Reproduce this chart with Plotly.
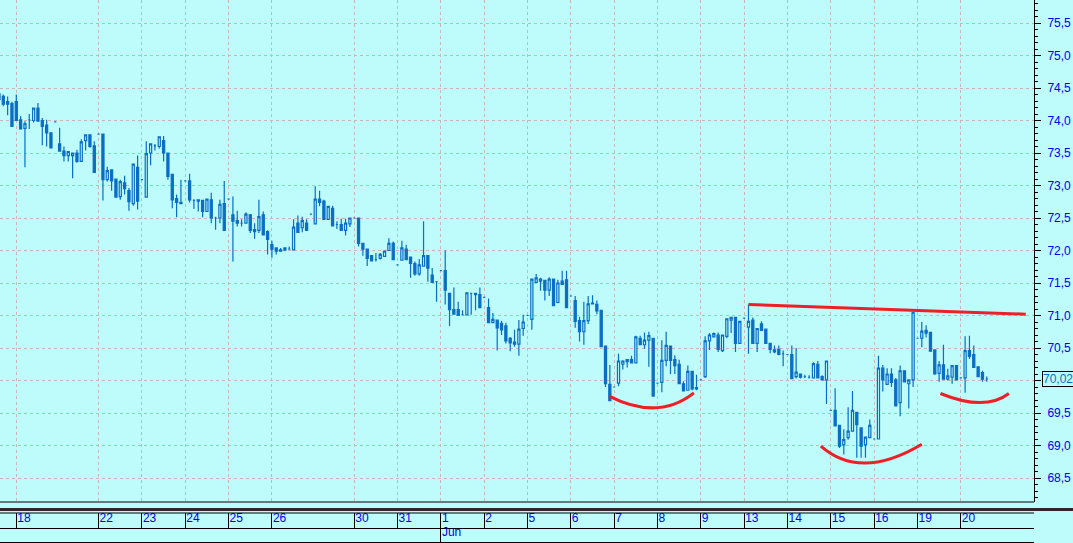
import plotly.graph_objects as go

# hourly bars, oldest first (bar number = list position)
opens = [
    74.41, 74.37, 74.29, 74.26, 74.29, 74.01, 73.88, 74.01, 74.00, 74.19,
    74.00, 73.93, 73.81, 73.98, 73.64, 73.53, 73.46, 73.46, 73.50, 73.37,
    73.69, 73.78, 73.61, 73.79, 73.79, 73.09, 73.24, 73.10, 72.83, 73.04,
    72.92, 72.72, 73.28, 73.09, 72.82, 73.50, 73.61, 73.60, 73.69, 73.50,
    73.17, 72.80, 72.74, 73.07, 73.07, 72.77, 72.78, 72.77, 72.60, 72.78,
    72.50, 72.50, 72.72, 72.79, 72.55, 72.46, 72.42, 72.42, 72.55, 72.32,
    72.31, 72.55, 72.29, 72.09, 72.04, 72.01, 72.01, 72.02, 72.01, 72.42,
    72.35, 72.42, 72.56, 72.41, 72.79, 72.76, 72.48, 72.65, 72.40, 72.40,
    72.31, 72.41, 72.50, 72.50, 72.11, 72.02, 71.92, 71.86, 71.88, 71.91,
    72.00, 72.11, 71.78, 71.85, 72.02, 71.90, 71.80, 71.64, 71.76, 71.92,
    71.62, 71.52, 71.69, 71.69, 71.34, 71.09, 71.09, 71.01, 71.01, 71.34,
    71.34, 71.32, 71.28, 71.12, 70.89, 70.93, 70.88, 70.84, 70.65, 70.59,
    70.56, 70.80, 71.00, 70.94, 71.51, 71.56, 71.54, 71.39, 71.56, 71.20,
    71.53, 71.55, 71.30, 71.23, 70.92, 70.75, 70.92, 71.19, 71.17, 71.08,
    70.53, 69.94, 69.90, 69.96, 70.25, 70.29, 70.32, 70.27, 70.65, 70.55,
    70.62, 70.65, 69.96, 69.97, 70.31, 70.53, 70.32, 70.25, 69.95, 69.85,
    70.14, 69.89, 70.01, 70.06, 70.61, 70.67, 70.70, 70.46, 70.68, 70.93,
    70.97, 70.57, 70.96, 70.82, 70.93, 70.57, 70.87, 70.79, 70.57, 70.47,
    70.48, 70.41, 70.40, 70.40, 70.06, 70.10, 70.06, 70.05, 70.04, 70.25,
    70.06, 70.01, 69.54, 69.54, 69.31, 69.01, 69.12, 69.22, 69.51, 69.27,
    69.01, 69.12, 69.10, 69.10, 70.19, 69.94, 70.10, 70.01, 69.66, 70.15,
    69.95, 70.01, 70.65, 70.65, 70.77, 70.74, 70.47, 70.11, 70.24, 70.02,
    70.05, 70.23, 70.04, 70.04, 70.46, 70.40, 70.21, 70.12, 70.02,
]
highs = [
    74.41, 74.40, 74.37, 74.29, 74.40, 74.07, 73.99, 74.10, 74.19, 74.27,
    74.04, 74.01, 73.81, 73.98, 73.89, 73.60, 73.52, 73.50, 73.55, 73.71,
    73.78, 73.78, 73.68, 73.79, 73.79, 73.29, 73.24, 73.10, 73.09, 73.15,
    72.96, 73.33, 73.46, 73.09, 73.68, 73.65, 73.64, 73.75, 73.76, 73.50,
    73.17, 72.86, 73.09, 73.07, 73.18, 72.79, 72.78, 72.77, 72.79, 72.89,
    72.52, 72.78, 73.07, 72.79, 72.83, 72.61, 72.48, 72.59, 72.56, 72.42,
    72.78, 72.60, 72.31, 72.15, 72.04, 72.04, 72.04, 72.06, 72.48, 72.54,
    72.52, 72.48, 72.56, 72.99, 72.92, 72.78, 72.68, 72.69, 72.45, 72.49,
    72.49, 72.50, 72.50, 72.50, 72.12, 72.02, 71.92, 71.96, 71.96, 71.99,
    72.19, 72.14, 71.78, 72.15, 72.09, 71.90, 71.83, 71.87, 72.45, 71.92,
    71.73, 71.52, 71.69, 72.00, 71.34, 71.43, 71.21, 71.08, 71.35, 71.35,
    71.35, 71.43, 71.28, 71.26, 71.04, 70.93, 70.92, 70.89, 70.67, 70.78,
    70.93, 71.01, 71.00, 71.56, 71.64, 71.58, 71.54, 71.59, 71.56, 71.55,
    71.69, 71.69, 71.30, 71.30, 70.98, 71.21, 71.30, 71.31, 71.23, 71.08,
    70.53, 70.24, 69.90, 70.41, 70.31, 70.32, 70.38, 70.69, 70.69, 70.74,
    70.75, 70.65, 69.96, 70.62, 70.75, 70.53, 70.39, 70.32, 69.99, 70.23,
    70.14, 70.09, 70.01, 70.68, 70.73, 70.74, 70.74, 70.70, 70.95, 70.97,
    70.97, 70.91, 70.96, 71.17, 70.97, 70.80, 70.91, 70.79, 70.57, 70.54,
    70.54, 70.46, 70.40, 70.54, 70.50, 70.10, 70.09, 70.08, 70.28, 70.30,
    70.08, 70.30, 69.54, 69.88, 69.31, 69.25, 69.59, 69.84, 69.51, 69.27,
    69.13, 69.40, 69.10, 70.38, 70.24, 70.19, 70.19, 70.04, 70.23, 70.15,
    70.02, 71.05, 70.65, 70.90, 70.85, 70.74, 70.47, 70.30, 70.55, 70.18,
    70.23, 70.24, 70.04, 70.68, 70.69, 70.54, 70.21, 70.15, 70.06,
]
lows = [
    74.32, 74.22, 74.08, 73.91, 74.00, 73.86, 73.28, 73.87, 73.97, 73.99,
    73.62, 73.60, 73.58, 73.98, 73.53, 73.37, 73.37, 73.11, 73.35, 73.37,
    73.54, 73.58, 73.20, 73.79, 72.77, 73.06, 72.92, 72.81, 72.78, 72.86,
    72.61, 72.69, 72.63, 73.09, 72.82, 73.31, 73.54, 73.57, 73.37, 73.09,
    72.65, 72.51, 72.71, 73.07, 72.74, 72.64, 72.60, 72.51, 72.60, 72.42,
    72.32, 72.42, 72.31, 72.79, 71.83, 72.37, 72.37, 72.41, 72.27, 72.18,
    72.27, 72.24, 71.94, 71.89, 71.94, 71.99, 71.99, 72.01, 72.01, 72.28,
    72.28, 72.31, 72.56, 72.41, 72.68, 72.47, 72.48, 72.37, 72.33, 72.31,
    72.23, 72.36, 72.50, 72.06, 71.92, 71.76, 71.83, 71.83, 71.86, 71.91,
    72.00, 71.86, 71.78, 71.85, 71.86, 71.58, 71.61, 71.61, 71.76, 71.52,
    71.51, 71.21, 71.69, 71.17, 70.84, 71.01, 71.00, 71.00, 71.01, 71.01,
    71.08, 71.12, 71.28, 70.88, 70.88, 70.46, 70.70, 70.57, 70.45, 70.52,
    70.38, 70.69, 71.00, 70.78, 71.51, 71.38, 71.23, 71.30, 71.15, 71.19,
    71.47, 71.12, 71.30, 70.81, 70.60, 70.55, 70.87, 71.18, 71.02, 70.51,
    69.90, 69.69, 69.90, 69.91, 70.17, 70.20, 70.27, 70.27, 70.55, 70.49,
    70.21, 69.76, 69.96, 69.82, 70.22, 70.10, 70.10, 69.95, 69.84, 69.85,
    69.85, 69.85, 70.01, 70.04, 70.47, 70.66, 70.44, 70.44, 70.65, 70.73,
    70.44, 70.56, 70.96, 70.41, 70.57, 70.44, 70.77, 70.57, 70.42, 70.42,
    70.39, 70.22, 70.40, 70.03, 70.03, 70.03, 70.04, 70.03, 70.03, 70.03,
    70.01, 69.64, 69.54, 69.30, 68.96, 68.86, 69.09, 69.22, 68.81, 68.81,
    68.81, 69.12, 69.10, 69.10, 69.83, 69.94, 69.90, 69.61, 69.45, 69.97,
    69.57, 69.90, 70.65, 70.51, 70.66, 70.45, 70.09, 69.98, 70.02, 70.00,
    69.95, 70.01, 70.04, 69.81, 70.33, 70.20, 70.06, 69.98, 69.98,
]
closes = [
    74.32, 74.25, 74.25, 73.91, 74.00, 73.87, 73.95, 74.01, 74.19, 73.99,
    73.91, 73.81, 73.58, 73.98, 73.53, 73.46, 73.52, 73.50, 73.37, 73.67,
    73.78, 73.60, 73.20, 73.79, 73.09, 73.23, 73.07, 72.82, 73.06, 72.95,
    72.75, 73.33, 72.76, 73.09, 73.49, 73.64, 73.61, 73.75, 73.50, 73.14,
    72.78, 72.74, 72.72, 73.07, 72.78, 72.77, 72.76, 72.60, 72.79, 72.50,
    72.50, 72.71, 72.31, 72.79, 72.45, 72.42, 72.42, 72.56, 72.31, 72.29,
    72.52, 72.24, 72.17, 72.02, 71.99, 71.99, 72.04, 72.02, 72.36, 72.28,
    72.46, 72.31, 72.56, 72.79, 72.74, 72.48, 72.68, 72.38, 72.40, 72.31,
    72.42, 72.50, 72.50, 72.11, 72.02, 71.88, 71.84, 71.86, 71.94, 71.99,
    72.11, 71.86, 71.78, 72.04, 71.86, 71.80, 71.64, 71.78, 71.92, 71.73,
    71.51, 71.52, 71.69, 71.39, 71.09, 71.02, 71.00, 71.01, 71.35, 71.34,
    71.32, 71.12, 71.28, 70.89, 70.94, 70.81, 70.78, 70.61, 70.58, 70.56,
    70.79, 70.90, 71.00, 71.56, 71.58, 71.53, 71.39, 71.56, 71.15, 71.50,
    71.48, 71.12, 71.30, 70.91, 70.75, 70.92, 71.18, 71.18, 71.07, 70.52,
    69.95, 69.69, 69.90, 70.30, 70.30, 70.32, 70.27, 70.67, 70.55, 70.62,
    70.69, 69.76, 69.96, 70.31, 70.54, 70.31, 70.23, 69.95, 69.84, 70.14,
    69.87, 69.87, 70.01, 70.61, 70.70, 70.72, 70.48, 70.70, 70.95, 70.97,
    70.57, 70.91, 70.96, 70.91, 70.57, 70.80, 70.77, 70.57, 70.48, 70.44,
    70.40, 70.41, 70.40, 70.03, 70.13, 70.05, 70.06, 70.05, 70.26, 70.04,
    70.01, 70.30, 69.54, 69.30, 68.99, 69.09, 69.22, 69.54, 69.32, 68.99,
    69.13, 69.31, 69.10, 70.19, 70.01, 70.10, 69.97, 69.61, 70.15, 69.98,
    70.01, 71.05, 70.65, 70.76, 70.73, 70.45, 70.10, 70.24, 70.02, 70.07,
    70.23, 70.01, 70.04, 70.46, 70.37, 70.20, 70.06, 70.02, 70.02,
]
bars = list(range(len(opens)))

# first bar of every session and its date label
day_start = [4, 23, 33, 43, 53, 63, 82, 92, 102, 112, 122,
             132, 142, 152, 162, 172, 182, 192, 202, 212, 222]
day_label = ["18", "22", "23", "24", "25", "26", "30", "31", "1", "2", "5",
             "6", "7", "8", "9", "13", "14", "15", "16", "19", "20"]
month_start = [102]
month_label = ["Jun"]

# price scale; the 70,0 label is covered by the last price box
price_ticks = [68.5, 69.0, 69.5, 70.0, 70.5, 71.0, 71.5, 72.0, 72.5, 73.0, 73.5, 74.0, 74.5, 75.0, 75.5]
price_text = ["68,5", "69,0", "69,5", "", "70,5", "71,0", "71,5", "72,0", "72,5", "73,0",
              "73,5", "74,0", "74,5", "75,0", "75,5"]
last_price = 70.02

# hand drawn red lines: resistance line and three bowls (start, bottom, end)
trend_x = [173, 237]
trend_y = [71.17, 71.02]
bowls = [
    [(140.8, 69.76), (151.4, 69.58), (160.4, 69.81)],
    [(189.7, 68.99), (200.1, 68.73), (213.0, 69.02)],
    [(217.3, 69.80), (226.4, 69.66), (233.1, 69.80)],
]

BG = "#BEFCFC"
BLUE = "#0A6EC4"
GRID = "#C6B8B8"
LABEL = "#0000F0"
RED = "#EE1F26"
H = 543
xr = [0.24, 238.9]

fig = go.Figure(go.Candlestick(
    x=bars, open=opens, high=highs, low=lows, close=closes,
    increasing=dict(line=dict(color=BLUE, width=1.2), fillcolor=BG),
    decreasing=dict(line=dict(color=BLUE, width=1.2), fillcolor=BLUE),
    whiskerwidth=0, hoverinfo="skip",
))
# invisible point so the month strip axis gets drawn
fig.add_trace(go.Scatter(x=month_start, y=[last_price], xaxis="x2", mode="markers",
                         marker=dict(opacity=0), hoverinfo="skip"))

fig.add_shape(type="line", x0=trend_x[0], y0=trend_y[0], x1=trend_x[1], y1=trend_y[1],
              xref="x", yref="y", line=dict(color=RED, width=3))
for (p0, v, p2) in bowls:
    cx = 2 * v[0] - (p0[0] + p2[0]) / 2
    cy = 2 * v[1] - (p0[1] + p2[1]) / 2
    fig.add_shape(type="path", xref="x", yref="y",
                  path=f"M {p0[0]},{p0[1]} Q {cx},{cy} {p2[0]},{p2[1]}",
                  line=dict(color=RED, width=3))

# frame lines of the date strip
fig.add_shape(type="line", xref="paper", yref="paper", x0=0, x1=1, y0=41 / H, y1=41 / H,
              line=dict(color="black", width=1))
fig.add_shape(type="line", xref="paper", yref="paper", x0=0, x1=1073 / 1034,
              y0=33.5 / H, y1=33.5 / H, line=dict(color="#2a2a2a", width=3))
fig.add_shape(type="line", xref="paper", yref="paper", x0=0, x1=1, y0=30 / H, y1=30 / H,
              line=dict(color="black", width=1))

fig.add_annotation(x=1.008, xref="paper", y=last_price, yref="y", xanchor="left",
                   text=f"{last_price:.2f}".replace(".", ","), showarrow=False,
                   font=dict(color=BLUE, size=12), bgcolor=BG,
                   bordercolor="black", borderwidth=1, borderpad=0)

strip_axis = dict(
    range=xr, anchor="free", tickmode="array",
    ticks="inside", tickcolor="black", tickwidth=1,
    ticklabelposition="inside right", ticklabeloverflow="allow",
    tickfont=dict(color=LABEL, size=12),
    showline=True, linecolor="black", linewidth=1,
    zeroline=False, fixedrange=True,
)

fig.update_layout(
    width=1073, height=H,
    margin=dict(l=0, r=39, t=0, b=0),
    paper_bgcolor=BG, plot_bgcolor=BG,
    showlegend=False,
    font=dict(family="Liberation Sans, Arial, sans-serif", size=12, color=LABEL),
    xaxis=dict(
        strip_axis, position=15 / H, tickvals=day_start, ticktext=day_label, ticklen=15,
        showgrid=True, gridcolor=GRID, griddash="3px,3px", gridwidth=1,
        rangeslider=dict(visible=False),
    ),
    xaxis2=dict(
        strip_axis, overlaying="x", position=1 / H,
        tickvals=month_start, ticktext=month_label, ticklen=14, showgrid=False,
    ),
    yaxis=dict(
        domain=[41 / H, 1], side="right", anchor="x",
        range=[68.131, 75.854], tickmode="array", tickvals=price_ticks, ticktext=price_text,
        ticks="outside", ticklen=6, tickcolor="black", ticklabelstandoff=4,
        tickfont=dict(color=LABEL, size=12),
        minor=dict(dtick=0.1, tick0=68.5, ticklen=3, ticks="outside", tickcolor="black",
                   showgrid=False),
        showline=True, linecolor="black", linewidth=1,
        showgrid=True, gridcolor=GRID, griddash="3px,3px", gridwidth=1,
        zeroline=False, fixedrange=True,
    ),
)

fig.write_html("out.html", config={"displayModeBar": False},
               post_script="document.body.style.margin='0';")
